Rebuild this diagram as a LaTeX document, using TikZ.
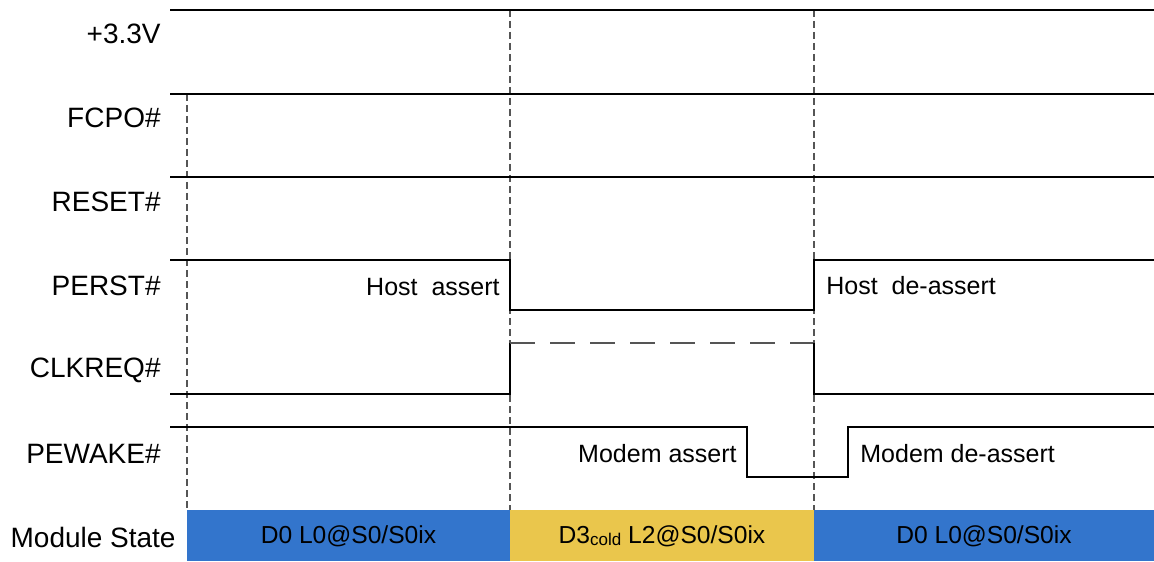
\documentclass[tikz,border=0pt]{standalone}
\usepackage{fontspec}
\setmainfont{Liberation Sans}
\definecolor{stblue}{RGB}{51,117,204}
\definecolor{styellow}{RGB}{234,198,76}
\definecolor{guide}{RGB}{85,85,85}
\begin{document}
\begin{tikzpicture}[x=0.5pt,y=-0.5pt,
  sig/.style={line width=0.9pt,black},
  guideline/.style={line width=0.6pt,guide,dash pattern=on 3.5pt off 2pt},
  optline/.style={line width=0.7pt,guide,dash pattern=on 12.5pt off 7.5pt},
  lbl/.style={anchor=base east,inner sep=0pt,font=\fontsize{14}{16}\selectfont},
  note/.style={inner sep=0pt,font=\fontsize{12.5}{15}\selectfont},
  statetext/.style={inner sep=0pt,font=\fontsize{12.3}{15}\selectfont}]
\useasboundingbox (0,0) rectangle (1154,561);
% state bars
\fill[stblue] (187,510) rectangle (510,561);
\fill[styellow] (510,510) rectangle (814,561);
\fill[stblue] (814,510) rectangle (1154,561);
% guide lines
\draw[guideline] (187,94) -- (187,510);
\draw[guideline] (510,10) -- (510,510);
\draw[guideline] (814,10) -- (814,510);
% signals
\draw[sig] (170,10) -- (1154,10);
\draw[sig] (170,94) -- (1154,94);
\draw[sig] (170,177) -- (1154,177);
\draw[sig] (170,260) -- (510,260) -- (510,310) -- (814,310) -- (814,260) -- (1154,260);
\draw[sig] (170,394) -- (510,394) -- (510,343);
\draw[optline] (510,343) -- (814,343);
\draw[sig] (814,343) -- (814,394) -- (1154,394);
\draw[sig] (170,427) -- (747,427) -- (747,477) -- (848,477) -- (848,427) -- (1154,427);
% signal labels
\node[lbl] (l33) at (161,44) {+3.3V};
\node[lbl] (lfcpo) at (161,128) {FCPO\#};
\node[lbl] (lreset) at (161,211.5) {RESET\#};
\node[lbl] (lperst) at (161,295) {PERST\#};
\node[lbl] (lclk) at (161,377.5) {CLKREQ\#};
\node[lbl] (lwake) at (161,463) {PEWAKE\#};
\node[lbl] (lstate) at (176,547) {Module State};
% annotations
\node[note,anchor=base east] (ha) at (500,295) {Host\ \ assert};
\node[note,anchor=base west] (hd) at (826,294.5) {Host\ \ de-assert};
\node[note,anchor=base east] (ma) at (737,462) {Modem assert};
\node[note,anchor=base west] (md) at (860,462) {Modem de-assert};
% states
\node[statetext,anchor=base] (s1) at (348.5,543.5) {D0 L0@S0/S0ix};
\node[statetext,anchor=base] (s2) at (662,543.5) {D3{\fontsize{8.5}{10}\selectfont\raisebox{-0.25ex}{cold}} L2@S0/S0ix};
\node[statetext,anchor=base] (s3) at (984,543.5) {D0 L0@S0/S0ix};
\end{tikzpicture}
\end{document}
